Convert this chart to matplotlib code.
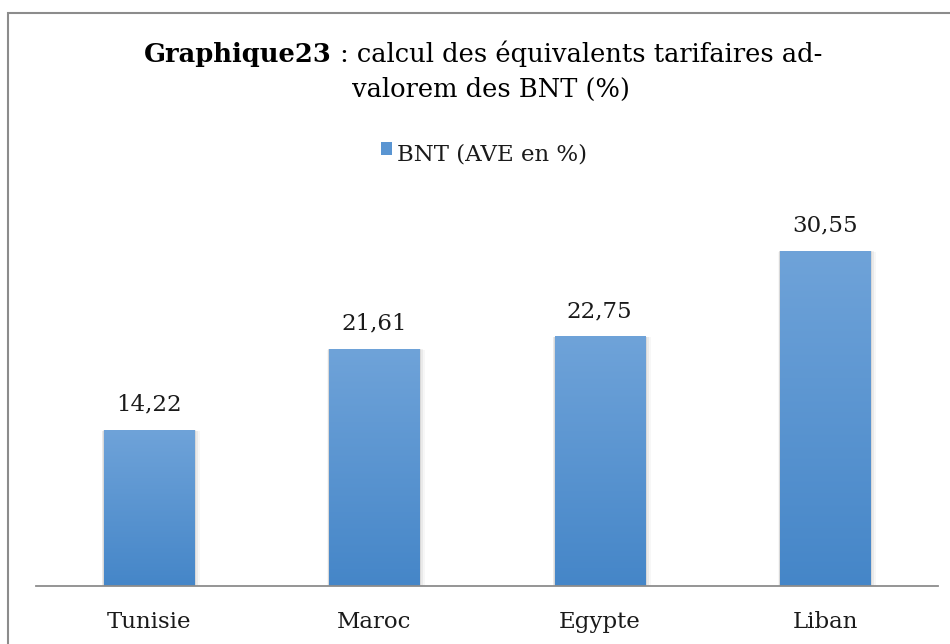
import matplotlib.pyplot as plt
import numpy as np
from matplotlib.patches import Rectangle

pays = ['Tunisie', 'Maroc', 'Egypte', 'Liban']
bnt_ave = [14.22, 21.61, 22.75, 30.55]
labels_val = ['14,22', '21,61', '22,75', '30,55']

titre_gras = 'Graphique23'
titre_suite = ' : calcul des équivalents tarifaires ad-'
titre_l2 = 'valorem des BNT (%)'
legende = 'BNT (AVE en %)'

plt.rcParams['font.family'] = ['DejaVu Serif']
fs = 16.5
fs_titre = 18.5

fig = plt.figure(figsize=(9.5, 6.44), dpi=100)
fig.patch.set_facecolor('white')

# cadre du graphique (coupe en bas et a droite)
fig.patches.append(Rectangle((8/950, -0.1), 1.2, 1 - 13/644 + 0.1, transform=fig.transFigure,
                             fill=False, edgecolor='#8c8c8c', linewidth=1.5))

ax = fig.add_axes([36/950, 1 - 586/644, 902/950, 384/644])

x = np.arange(len(pays))
bars = ax.bar(x, bnt_ave, width=0.4, color='none', zorder=2)

# degrade vertical dans chaque barre + ombre legere
cmap = plt.matplotlib.colors.LinearSegmentedColormap.from_list('bleu', ['#4586c8', '#6fa3d9'])
grad = np.linspace(0, 1, 256).reshape(-1, 1)
for b in bars:
    x0, w, h = b.get_x(), b.get_width(), b.get_height()
    for k, a in enumerate([0.07, 0.05, 0.03]):
        d = 0.006 * (k + 1)
        ax.add_patch(Rectangle((x0 - d * 0.5, 0), w + d * 2, h - d * 4, facecolor='black',
                               alpha=a, edgecolor='none', zorder=1))
    im = ax.imshow(grad, extent=[x0, x0 + w, 0, h], origin='lower', cmap=cmap,
                   aspect='auto', zorder=2)
    im.set_clip_path(b)

for xi, v, s in zip(x, bnt_ave, labels_val):
    ax.text(xi, v + 1.3, s, ha='center', va='bottom', fontsize=fs, color='#1a1a1a')

for sp in ['top', 'right', 'left']:
    ax.spines[sp].set_visible(False)
ax.spines['bottom'].set_color('#8c8c8c')
ax.spines['bottom'].set_linewidth(1.3)
ax.set_yticks([])
ax.set_xticks(x)
ax.set_xticklabels(pays, fontsize=fs, color='#1a1a1a')
ax.tick_params(axis='x', length=0, pad=18)
ax.set_xlim(-0.5, 3.5)
ax.set_ylim(0, 35)

# titre : partie en gras + suite
fig.canvas.draw()
r = fig.canvas.get_renderer()
t1 = fig.text(0, 1 - 62/644, titre_gras, fontsize=fs_titre, fontweight='bold', va='baseline')
t2 = fig.text(0, 1 - 62/644, titre_suite, fontsize=fs_titre, va='baseline')
w1 = t1.get_window_extent(r).width
w2 = t2.get_window_extent(r).width
cx = 483
t1.set_x((cx - (w1 + w2) / 2) / 950)
t2.set_x((cx - (w1 + w2) / 2 + w1) / 950)
fig.text(491/950, 1 - 97/644, titre_l2, fontsize=fs_titre, ha='center', va='baseline')

# legende
fig.text(397/950, 1 - 160/644, legende, fontsize=fs, va='baseline', color='#1a1a1a')
fig.patches.append(Rectangle((381/950, 1 - 155/644), 11/950, 13/644, transform=fig.transFigure,
                             facecolor='#5a95d2', edgecolor='none'))

fig.savefig('out.png', dpi=100, facecolor='white')
